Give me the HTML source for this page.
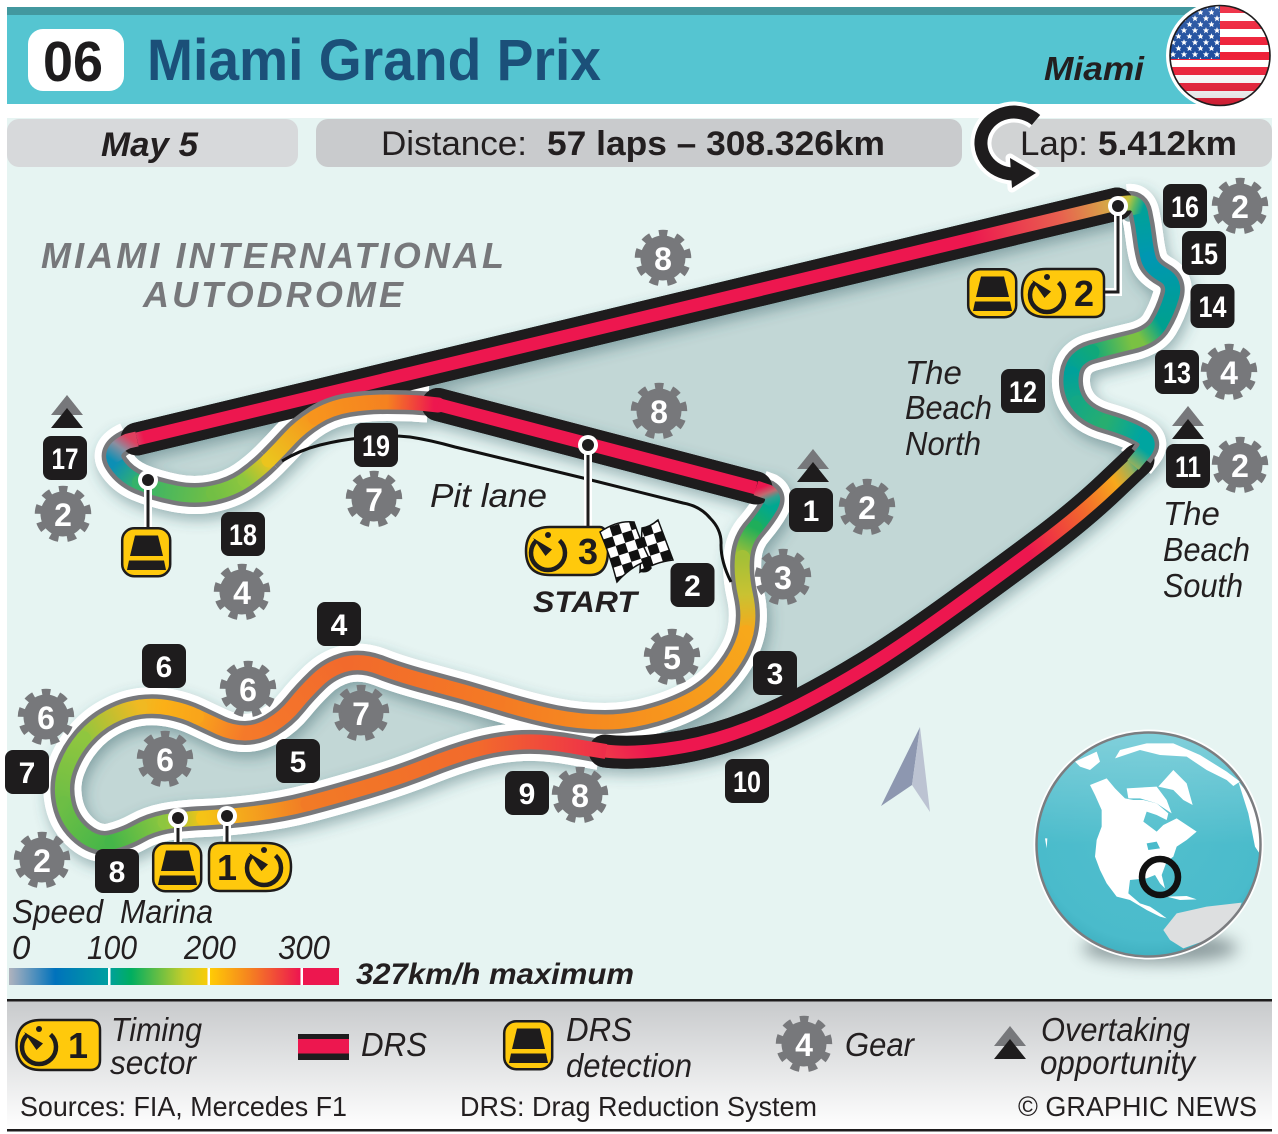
<!DOCTYPE html>
<html><head><meta charset="utf-8"><title>Miami Grand Prix</title>
<style>
html,body{margin:0;padding:0;background:#fff}
svg{display:block;font-family:"Liberation Sans",sans-serif}
.w{stroke:#fff;stroke-width:38;fill:none}
.y{stroke:#77787B;stroke-width:24;fill:none}
.c{stroke-width:15;fill:none;stroke-linecap:round}
.k{stroke:#1E1C1D;stroke-width:33;fill:none;stroke-linecap:round}
.r{stroke-width:13;fill:none}
.b{fill:#1E1C1D;}
.n{fill:#fff;font-weight:bold;font-size:30px;text-anchor:middle}
.g{fill:#fff;font-weight:bold;font-size:32px;text-anchor:middle}
.i{font-style:italic;font-size:33px;fill:#231F20}
.l{font-size:28px;fill:#231F20}
.tg{fill:#FFC90C;stroke:#1E1C1D;stroke-width:2.5}
</style></head>
<body>
<svg width="1278" height="1134" viewBox="0 0 1278 1134" xmlns="http://www.w3.org/2000/svg">
<defs>
<filter id="sh" filterUnits="userSpaceOnUse" x="0" y="100" width="1278" height="900"><feDropShadow dx="3" dy="6" stdDeviation="7" flood-color="#2A5A60" flood-opacity=".42"/></filter>
<filter id="bl" filterUnits="userSpaceOnUse" x="1000" y="900" width="278" height="100"><feGaussianBlur stdDeviation="8"/></filter>
<linearGradient id="leg" x1="0" y1="0" x2="0" y2="1"><stop stop-color="#C8CACC"/><stop offset="1" stop-color="#fff"/></linearGradient>
<linearGradient id="bar" gradientUnits="userSpaceOnUse" x1="9" y1="0" x2="339" y2="0"><stop stop-color="#B0B3BE"/><stop offset=".14" stop-color="#0072BC"/><stop offset=".3" stop-color="#009FA0"/><stop offset=".37" stop-color="#00AE60"/><stop offset=".53" stop-color="#C5CD2A"/><stop offset=".61" stop-color="#FFCB05"/><stop offset=".73" stop-color="#F58220"/><stop offset=".88" stop-color="#ED174F"/></linearGradient>
<linearGradient id="g1" gradientUnits="userSpaceOnUse" x1="762" y1="487" x2="770" y2="507"><stop stop-color="#ED174F"/><stop offset=".35" stop-color="#C06A70"/><stop offset=".65" stop-color="#30A090"/><stop offset="1" stop-color="#00A890"/></linearGradient>
<linearGradient id="g2" gradientUnits="userSpaceOnUse" x1="770" y1="507" x2="755" y2="528"><stop stop-color="#00A890"/><stop offset="1" stop-color="#1FAE5A"/></linearGradient>
<linearGradient id="g3" gradientUnits="userSpaceOnUse" x1="755" y1="528" x2="742" y2="557"><stop stop-color="#1FAE5A"/><stop offset="1" stop-color="#A3C037"/></linearGradient>
<linearGradient id="g4" gradientUnits="userSpaceOnUse" x1="742" y1="557" x2="746" y2="632"><stop stop-color="#A3C037"/><stop offset=".5" stop-color="#C9C232"/><stop offset="1" stop-color="#F7A81B"/></linearGradient>
<linearGradient id="g5" gradientUnits="userSpaceOnUse" x1="746" y1="632" x2="655" y2="714"><stop stop-color="#F7A81B"/><stop offset="1" stop-color="#F7941D"/></linearGradient>
<linearGradient id="g6" gradientUnits="userSpaceOnUse" x1="655" y1="714" x2="497" y2="702"><stop stop-color="#F7941D"/><stop offset="1" stop-color="#F47A24"/></linearGradient>
<linearGradient id="g7" gradientUnits="userSpaceOnUse" x1="497" y1="702" x2="346" y2="664"><stop stop-color="#F47A24"/><stop offset="1" stop-color="#F26A2C"/></linearGradient>
<linearGradient id="g8" gradientUnits="userSpaceOnUse" x1="346" y1="664" x2="245" y2="733"><stop stop-color="#F26A2C"/><stop offset="1" stop-color="#F5792A"/></linearGradient>
<linearGradient id="g9" gradientUnits="userSpaceOnUse" x1="245" y1="733" x2="196" y2="716"><stop stop-color="#F5792A"/><stop offset="1" stop-color="#F9A51A"/></linearGradient>
<linearGradient id="g10" gradientUnits="userSpaceOnUse" x1="196" y1="716" x2="140" y2="707"><stop stop-color="#F9A51A"/><stop offset=".6" stop-color="#FBB017"/><stop offset="1" stop-color="#F0B922"/></linearGradient>
<linearGradient id="g11" gradientUnits="userSpaceOnUse" x1="140" y1="707" x2="83" y2="738"><stop stop-color="#F0B922"/><stop offset="1" stop-color="#8FC63F"/></linearGradient>
<linearGradient id="g12" gradientUnits="userSpaceOnUse" x1="83" y1="738" x2="64" y2="803"><stop stop-color="#8FC63F"/><stop offset="1" stop-color="#6DBE45"/></linearGradient>
<linearGradient id="g13" gradientUnits="userSpaceOnUse" x1="64" y1="803" x2="112" y2="842"><stop stop-color="#6DBE45"/><stop offset="1" stop-color="#45B649"/></linearGradient>
<linearGradient id="g14" gradientUnits="userSpaceOnUse" x1="112" y1="842" x2="165" y2="822"><stop stop-color="#45B649"/><stop offset="1" stop-color="#8DC63F"/></linearGradient>
<linearGradient id="g15" gradientUnits="userSpaceOnUse" x1="165" y1="822" x2="204" y2="818"><stop stop-color="#8DC63F"/><stop offset="1" stop-color="#F5C316"/></linearGradient>
<linearGradient id="g16" gradientUnits="userSpaceOnUse" x1="204" y1="818" x2="308" y2="803"><stop stop-color="#F5C316"/><stop offset="1" stop-color="#F27A26"/></linearGradient>
<linearGradient id="g17" gradientUnits="userSpaceOnUse" x1="308" y1="803" x2="477" y2="749"><stop stop-color="#F27A26"/><stop offset="1" stop-color="#F26A2C"/></linearGradient>
<linearGradient id="g18" gradientUnits="userSpaceOnUse" x1="477" y1="749" x2="606" y2="751"><stop stop-color="#F26A2C"/><stop offset="1" stop-color="#EE2D4A"/></linearGradient>
<linearGradient id="b1" gradientUnits="userSpaceOnUse" x1="1112" y1="204" x2="1141" y2="214"><stop stop-color="#D8A048"/><stop offset=".45" stop-color="#C8C43A"/><stop offset=".7" stop-color="#60B860"/><stop offset="1" stop-color="#00A19A"/></linearGradient>
<linearGradient id="b2" gradientUnits="userSpaceOnUse" x1="1141" y1="214" x2="1148" y2="259"><stop stop-color="#00A19A"/><stop offset="1" stop-color="#0097B2"/></linearGradient>
<linearGradient id="b3" gradientUnits="userSpaceOnUse" x1="1148" y1="259" x2="1160" y2="324"><stop stop-color="#0097B2"/><stop offset="1" stop-color="#00A090"/></linearGradient>
<linearGradient id="b4" gradientUnits="userSpaceOnUse" x1="1160" y1="324" x2="1131" y2="342"><stop stop-color="#00A090"/><stop offset=".7" stop-color="#7AC143"/><stop offset="1" stop-color="#7AC143"/></linearGradient>
<linearGradient id="b5" gradientUnits="userSpaceOnUse" x1="1131" y1="342" x2="1092" y2="352"><stop stop-color="#7AC143"/><stop offset="1" stop-color="#10A87A"/></linearGradient>
<linearGradient id="b6" gradientUnits="userSpaceOnUse" x1="1092" y1="352" x2="1071" y2="373"><stop stop-color="#10A87A"/><stop offset="1" stop-color="#00A19A"/></linearGradient>
<linearGradient id="b7" gradientUnits="userSpaceOnUse" x1="1071" y1="373" x2="1077" y2="403"><stop stop-color="#00A19A"/><stop offset="1" stop-color="#14A884"/></linearGradient>
<linearGradient id="b8" gradientUnits="userSpaceOnUse" x1="1077" y1="403" x2="1107" y2="422"><stop stop-color="#14A884"/><stop offset="1" stop-color="#27AE70"/></linearGradient>
<linearGradient id="b9" gradientUnits="userSpaceOnUse" x1="1107" y1="422" x2="1140" y2="435"><stop stop-color="#27AE70"/><stop offset="1" stop-color="#00A5A0"/></linearGradient>
<linearGradient id="b10" gradientUnits="userSpaceOnUse" x1="1132" y1="466" x2="1144" y2="450"><stop stop-color="#9DB05A"/><stop offset="1" stop-color="#00A5A0"/></linearGradient>
<linearGradient id="c1" gradientUnits="userSpaceOnUse" x1="132" y1="440" x2="116" y2="463"><stop stop-color="#E0405F"/><stop offset=".45" stop-color="#8A8FA0"/><stop offset="1" stop-color="#0C8FB5"/></linearGradient>
<linearGradient id="c2" gradientUnits="userSpaceOnUse" x1="116" y1="463" x2="139" y2="482"><stop stop-color="#0C8FB5"/><stop offset="1" stop-color="#35B36A"/></linearGradient>
<linearGradient id="c3" gradientUnits="userSpaceOnUse" x1="139" y1="482" x2="213" y2="493"><stop stop-color="#35B36A"/><stop offset="1" stop-color="#72BF44"/></linearGradient>
<linearGradient id="c4" gradientUnits="userSpaceOnUse" x1="213" y1="493" x2="245" y2="480"><stop stop-color="#72BF44"/><stop offset="1" stop-color="#8DC63F"/></linearGradient>
<linearGradient id="c5" gradientUnits="userSpaceOnUse" x1="245" y1="480" x2="269" y2="460"><stop stop-color="#8DC63F"/><stop offset="1" stop-color="#EBC41E"/></linearGradient>
<linearGradient id="d1" gradientUnits="userSpaceOnUse" x1="269" y1="460" x2="315" y2="417"><stop stop-color="#EBC41E"/><stop offset="1" stop-color="#F7941D"/></linearGradient>
<linearGradient id="d2" gradientUnits="userSpaceOnUse" x1="315" y1="417" x2="387" y2="402"><stop stop-color="#F7941D"/><stop offset="1" stop-color="#F58220"/></linearGradient>
<linearGradient id="d3" gradientUnits="userSpaceOnUse" x1="387" y1="402" x2="434" y2="404"><stop stop-color="#F58220"/><stop offset="1" stop-color="#ED174F"/></linearGradient>
<linearGradient id="top" gradientUnits="userSpaceOnUse" x1="124" y1="443" x2="1124" y2="202"><stop stop-color="#C87A80"/><stop offset=".02" stop-color="#ED174F"/><stop offset=".845" stop-color="#ED174F"/><stop offset=".936" stop-color="#E8604F"/><stop offset=".98" stop-color="#D8A048"/><stop offset="1" stop-color="#C8C43A"/></linearGradient>
<linearGradient id="low" gradientUnits="userSpaceOnUse" x1="600" y1="750" x2="1140" y2="458"><stop stop-color="#F0394A"/><stop offset=".07" stop-color="#ED174F"/><stop offset=".767" stop-color="#ED174F"/><stop offset=".881" stop-color="#F26A2C"/><stop offset=".9456" stop-color="#F7A81B"/><stop offset=".978" stop-color="#9DB05A"/><stop offset="1" stop-color="#00A5A0"/></linearGradient>
<radialGradient id="glob" cx=".5" cy=".42" r=".6"><stop offset="0" stop-color="#52BFCD"/><stop offset=".85" stop-color="#4ABBCB"/><stop offset="1" stop-color="#3EAEBE"/></radialGradient>
<linearGradient id="glos" x1="0" y1="0" x2="0" y2="1"><stop stop-color="#fff" stop-opacity=".3"/><stop offset=".5" stop-color="#fff" stop-opacity="0"/></linearGradient>
<linearGradient id="fgl" x1="0" y1="0" x2="0" y2="1"><stop stop-color="#fff" stop-opacity=".12"/><stop offset=".5" stop-color="#fff" stop-opacity="0"/><stop offset="1" stop-color="#000" stop-opacity=".18"/></linearGradient>
<pattern id="sta" width="11" height="12" patternUnits="userSpaceOnUse" x="1170" y="3"><polygon fill="#fff" points="3,.2 3.9,2.4 6.2,2.4 4.4,3.9 5,6.2 3,4.9 1,6.2 1.6,3.9 -.2,2.4 2.1,2.4"/><polygon fill="#fff" points="8.5,6.2 9.4,8.4 11.7,8.4 9.9,9.9 10.5,12 8.5,10.9 6.5,12 7.1,9.9 5.3,8.4 7.6,8.4"/></pattern>
<pattern id="chk" width="20" height="20" patternUnits="userSpaceOnUse" patternTransform="rotate(-18 600 530)"><rect width="20" height="20" fill="#fff"/><rect width="10" height="10" fill="#111"/><rect x="10" y="10" width="10" height="10" fill="#111"/></pattern>
<clipPath id="fc"><circle cx="1220" cy="55.5" r="50"/></clipPath>
<clipPath id="gc"><circle cx="1148.5" cy="844.5" r="112"/></clipPath>
<g id="gear"><circle r="22.5" fill="#77787B"/><circle r="24" fill="none" stroke="#77787B" stroke-width="8.5" stroke-dasharray="8.38 8.38" stroke-dashoffset="4.19" transform="rotate(-90)"/></g>
<g id="drs"><rect x="1.2" y="1.2" width="48" height="48" rx="12" class="tg"/><polygon class="b" points="14,8.5 37,8.5 42,29 9,29"/><polygon class="b" points="8,33.5 43,33.5 45,43 6,43"/></g>
<g id="clk"><path d="M-11.5,-12.5 A17,17 0 1 0 11.5,-12.5" fill="none" stroke="#1E1C1D" stroke-width="4.5"/><circle cx="0" cy="-18" r="3" class="b"/><polygon class="b" points="-15,-15 4,-3.5 -2.5,3"/></g>
<g id="ov"><polygon fill="#77787B" points="0,0 16,20 -16,20"/><polygon class="b" points="0,13 16,33 -16,33"/></g>
<path id="tA" d="M760,489 L768,492 Q776,497 770,507 Q765,516 755,528 Q744,540 742.5,557.5 Q741,575 745.5,595 Q750,615 746,632.5 Q742,650 728.5,668 Q715,686 697.5,696.5 Q680,707 655,714.5 Q630,722 605,722 Q580,722 555,717 Q530,712 497.5,702 Q465,692 432.5,683.5 Q400,675 381,667.5 Q362,660 346,664 Q330,668 317.5,680 Q305,692 295,704.5 Q285,717 271.5,725 Q258,733 245,733 Q232,733 220,727.5 Q208,722 196.5,716.5 Q185,711 170,708 Q155,705 140,707 Q125,709 110,717 Q95,725 83.5,738.5 Q72,752 66,768.5 Q60,785 64,803.5 Q68,822 82.5,834 Q97,846 112,842 Q127,838 138.5,831.5 Q150,825 165,822 Q180,819 203.5,818 Q227,817 255,813.5 Q283,810 308,803.5 Q333,797 366.5,787 Q400,777 427.5,766 Q455,755 477.5,749 Q500,743 522.5,742 Q545,741 572.5,746 L600,751"/>
<path id="tB" d="M1128,203 Q1138,202 1140.5,213.5 Q1143,225 1144.5,237.5 Q1146,250 1148.5,259 Q1151,268 1163.5,275 Q1176,282 1171.5,297 Q1167,312 1159.5,324.5 Q1152,337 1131,342 Q1110,347 1092,352 Q1074,357 1071.5,373.5 Q1069,390 1077.5,403 Q1086,416 1107,422 Q1128,428 1140,435 Q1152,442 1144,452 L1136,462"/>
<path id="tC" d="M128,441 Q108,450 116,463 Q124,476 139.5,482.5 Q155,489 175,493 Q195,497 213.5,493 Q232,489 245,480 Q258,471 269,460"/>
<path id="tD" d="M269,460 Q280,449 290,438 Q300,427 315,417.5 Q330,408 348.5,405 Q367,402 387,402 Q407,402 420,403 L428,403.5"/>
<path id="tS" d="M137,439 L1117,204"/>
<path id="tE" d="M605,751 Q630,754 665,749.5 Q700,745 733.5,733.5 Q767,722 800,705 Q833,688 866.5,667.5 Q900,647 950,611 Q1000,575 1040,545 Q1080,515 1109,487.5 L1138,460"/>
<path id="tF" d="M438,404.5 L756,488"/>
</defs>

<!-- map background -->
<rect x="7" y="118" width="1265" height="882" fill="#E6F4F2"/>

<!-- infield fills -->
<path fill="#C2D7D6" d="M1124,202 L300,400 L434,404 L760,489 L768,492 Q776,497 770,507 Q765,516 755,528 Q744,540 742.5,557.5 Q741,575 745.5,595 Q750,615 746,632.5 Q742,650 728.5,668 Q715,686 697.5,696.5 Q680,707 655,714.5 Q630,722 605,722 L600,750 Q630,754 665,749.5 Q700,745 733.5,733.5 Q767,722 800,705 Q833,688 866.5,667.5 Q900,647 950,611 Q1000,575 1040,545 Q1080,515 1109,487.5 L1138,460 L1144,440 L1107,422 L1077,403 L1071,373 L1092,352 L1131,342 L1160,324 L1171,297 L1163,275 L1148,259 L1144,237 L1140,213 Z"/>
<path fill="#C2D7D6" d="M605,722 Q580,722 555,717 Q530,712 497.5,702 Q465,692 432.5,683.5 Q400,675 381,667.5 Q362,660 346,664 Q330,668 317.5,680 Q305,692 295,704.5 Q285,717 271.5,725 Q258,733 245,733 Q232,733 220,727.5 Q208,722 196.5,716.5 Q185,711 170,708 Q155,705 140,707 Q125,709 110,717 Q95,725 83.5,738.5 Q72,752 66,768.5 Q60,785 64,803.5 Q68,822 82.5,834 Q97,846 112,842 Q127,838 138.5,831.5 Q150,825 165,822 Q180,819 203.5,818 Q227,817 255,813.5 Q283,810 308,803.5 Q333,797 366.5,787 Q400,777 427.5,766 Q455,755 477.5,749 Q500,743 522.5,742 Q545,741 572.5,746 L600,751 Z"/>
<polygon fill="#C2D7D6" points="128,441 330,393 348,405 315,417 290,438 269,460 245,480 213,493 175,493 139,482 116,463"/>

<!-- track shadow + white casing -->
<g filter="url(#sh)">
<use href="#tA" class="w"/><use href="#tB" class="w"/><use href="#tC" class="w"/><use href="#tD" class="w"/>
<use href="#tS" class="k"/><use href="#tE" class="k"/><use href="#tF" class="k"/>
</g>
<use href="#tA" class="w"/><use href="#tB" class="w"/><use href="#tC" class="w"/><use href="#tD" class="w"/>
<use href="#tA" class="y"/><use href="#tB" class="y"/><use href="#tC" class="y"/>

<g>
<path class="c" stroke="url(#g2)" d="M770,507 Q765,516 755,528"/>
<path class="c" stroke="url(#g3)" d="M755,528 Q744,540 742.5,557.5"/>
<path class="c" stroke="url(#g4)" d="M742.5,557.5 Q741,575 745.5,595 Q750,615 746,632.5"/>
<path class="c" stroke="url(#g5)" d="M746,632.5 Q742,650 728.5,668 Q715,686 697.5,696.5 Q680,707 655,714.5"/>
<path class="c" stroke="url(#g6)" d="M655,714.5 Q630,722 605,722 Q580,722 555,717 Q530,712 497.5,702"/>
<path class="c" stroke="url(#g7)" d="M497.5,702 Q465,692 432.5,683.5 Q400,675 381,667.5 Q362,660 346,664"/>
<path class="c" stroke="url(#g8)" d="M346,664 Q330,668 317.5,680 Q305,692 295,704.5 Q285,717 271.5,725 Q258,733 245,733"/>
<path class="c" stroke="url(#g9)" d="M245,733 Q232,733 220,727.5 Q208,722 196.5,716.5"/>
<path class="c" stroke="url(#g10)" d="M196.5,716.5 Q185,711 170,708 Q155,705 140,707"/>
<path class="c" stroke="url(#g11)" d="M140,707 Q125,709 110,717 Q95,725 83.5,738.5"/>
<path class="c" stroke="url(#g12)" d="M83.5,738.5 Q72,752 66,768.5 Q60,785 64,803.5"/>
<path class="c" stroke="url(#g13)" d="M64,803.5 Q68,822 82.5,834 Q97,846 112,842"/>
<path class="c" stroke="url(#g14)" d="M112,842 Q127,838 138.5,831.5 Q150,825 165,822"/>
<path class="c" stroke="url(#g15)" d="M165,822 Q180,819 203.5,818"/>
<path class="c" stroke="url(#g16)" d="M203.5,818 Q227,817 255,813.5 Q283,810 308,803.5"/>
<path class="c" stroke="url(#g17)" d="M308,803.5 Q333,797 366.5,787 Q400,777 427.5,766 Q455,755 477.5,749"/>
<path class="c" stroke="url(#g18)" d="M477.5,749 Q500,743 522.5,742 Q545,741 572.5,746 L600,751"/>
<path class="c" stroke="url(#b2)" d="M1140.5,213.5 Q1143,225 1144.5,237.5 Q1146,250 1148.5,259"/>
<path class="c" stroke="url(#b3)" d="M1148.5,259 Q1151,268 1163.5,275 Q1176,282 1171.5,297 Q1167,312 1159.5,324.5"/>
<path class="c" stroke="url(#b4)" d="M1159.5,324.5 Q1152,337 1131,342"/>
<path class="c" stroke="url(#b5)" d="M1131,342 Q1110,347 1092,352"/>
<path class="c" stroke="url(#b6)" d="M1092,352 Q1074,357 1071.5,373.5"/>
<path class="c" stroke="url(#b7)" d="M1071.5,373.5 Q1069,390 1077.5,403"/>
<path class="c" stroke="url(#b8)" d="M1077.5,403 Q1086,416 1107,422"/>
<path class="c" stroke="url(#b9)" d="M1107,422 Q1128,428 1140,435"/>
<path class="c" stroke="url(#c2)" d="M116,463 Q124,476 139.5,482.5"/>
<path class="c" stroke="url(#c3)" d="M139.5,482.5 Q155,489 175,493 Q195,497 213.5,493"/>
<path class="c" stroke="url(#c4)" d="M213.5,493 Q232,489 245,480"/>
<path class="c" stroke="url(#c5)" d="M245,480 Q258,471 269,460"/>
</g>

<!-- top DRS straight -->
<use href="#tS" class="k"/>
<use href="#tS" class="r" stroke="url(#top)"/>
<path class="c" stroke="url(#b1)" d="M1117,204 L1128,203 Q1138,202 1140.5,213.5" style="stroke-linecap:butt"/>
<path class="c" stroke="url(#c1)" d="M137,439 L128,441 Q108,450 116,463" style="stroke-linecap:butt"/>

<!-- turn 19 passes over the straight -->
<use href="#tD" class="y"/>
<path class="c" stroke="url(#d1)" d="M269,460 Q280,449 290,438 Q300,427 315,417.5"/>
<path class="c" stroke="url(#d2)" d="M315,417.5 Q330,408 348.5,405 Q367,402 387,402"/>

<!-- second and third DRS zones -->
<use href="#tF" class="k"/>
<path class="c" stroke="url(#d3)" d="M387,402 Q407,402 420,403 L438,405"/>
<use href="#tF" class="r" stroke="#ED174F"/>
<path class="c" stroke="url(#g1)" d="M756,488 L768,492 Q776,497 770,507" style="stroke-linecap:butt"/>
<use href="#tE" class="k"/>
<use href="#tE" class="r" stroke="url(#low)"/>
<path class="c" stroke="url(#g18)" d="M572.5,746 L606,751.5" style="stroke-linecap:butt"/>
<path class="y" d="M1141,456 Q1152,442 1140,435"/>
<path class="c" stroke="url(#b10)" d="M1133,465 L1144,452 Q1152,442 1140,435" style="stroke-linecap:butt"/>

<!-- pit lane -->
<path fill="none" stroke="#111" stroke-width="3" d="M282,461 Q300,450 320,445 Q340,440 360,438 Q385,434 410,437 Q430,440 455,447 L583,478 L683,503 Q700,506 710,518 Q722,530 721,545 Q721,562 731,582"/>

<!-- header -->
<rect x="7" y="7" width="1220" height="97" fill="#55C5D1"/>
<rect x="7" y="7" width="1220" height="8" fill="#42989F"/>
<rect x="28" y="29" width="96" height="62" rx="15" fill="#fff"/>
<text x="43" y="81" font-size="57" font-weight="bold" fill="#1E1C1D" textLength="60" lengthAdjust="spacingAndGlyphs">06</text>
<text x="147" y="80" font-size="58" font-weight="bold" fill="#1B5079" textLength="454" lengthAdjust="spacingAndGlyphs">Miami Grand Prix</text>
<text x="1044" y="80" font-size="33" font-weight="bold" font-style="italic" fill="#231F20" textLength="100" lengthAdjust="spacingAndGlyphs">Miami</text>

<!-- flag -->
<circle cx="1220" cy="55.5" r="54" fill="#fff"/>
<g clip-path="url(#fc)">
<rect x="1165" y="0" width="110" height="110" fill="#fff"/>
<g fill="#ED2038">
<rect x="1165" y="5" width="110" height="8"/><rect x="1165" y="21" width="110" height="8"/><rect x="1165" y="37" width="110" height="8"/><rect x="1165" y="52" width="110" height="8"/><rect x="1165" y="67" width="110" height="8"/><rect x="1165" y="83" width="110" height="8"/><rect x="1165" y="98" width="110" height="8"/>
</g>
<rect x="1165" y="0" width="55" height="59" fill="#1F4E9E"/>
<rect x="1165" y="0" width="55" height="59" fill="url(#sta)"/>
<rect x="1165" y="0" width="110" height="110" fill="url(#fgl)"/>
</g>
<circle cx="1220" cy="55.5" r="50" fill="none" stroke="#1E1C1D" stroke-width="1.6"/>

<!-- info pills -->
<rect x="7" y="119" width="291" height="48" rx="12" fill="#D7D9DB"/>
<rect x="316" y="119" width="646" height="48" rx="12" fill="#C9CBCD"/>
<rect x="980" y="119" width="292" height="48" rx="12" fill="#D1D3D4"/>
<text x="101" y="156" font-size="34" font-weight="bold" font-style="italic" fill="#231F20" textLength="97" lengthAdjust="spacingAndGlyphs">May 5</text>
<text x="381" y="155" font-size="34" fill="#231F20" textLength="146" lengthAdjust="spacingAndGlyphs">Distance:</text>
<text x="547" y="155" font-size="34" font-weight="bold" fill="#231F20" textLength="338" lengthAdjust="spacingAndGlyphs">57 laps – 308.326km</text>
<text x="1020" y="155" font-size="34" fill="#231F20" textLength="68" lengthAdjust="spacingAndGlyphs">Lap:</text>
<text x="1098" y="155" font-size="34" font-weight="bold" fill="#231F20" textLength="139" lengthAdjust="spacingAndGlyphs">5.412km</text>
<!-- lap arrow -->
<path d="M1036,120 A33,31 0 1 0 1012,174" fill="none" stroke="#fff" stroke-width="21"/>
<polygon points="1010,158 1035,173 1012,188" fill="#fff" stroke="#fff" stroke-width="9" stroke-linejoin="round"/>
<path d="M1036,120 A33,31 0 1 0 1012,174" fill="none" stroke="#1E1C1D" stroke-width="13"/>
<polygon points="1010,158 1036,173 1012,188" fill="#1E1C1D"/>

<!-- venue title -->
<text x="41" y="268" font-size="36" font-weight="bold" font-style="italic" fill="#77787B" textLength="463" lengthAdjust="spacing">MIAMI INTERNATIONAL</text>
<text x="143" y="307" font-size="36" font-weight="bold" font-style="italic" fill="#77787B" textLength="260" lengthAdjust="spacing">AUTODROME</text>

<!-- italic place labels -->
<text class="i" x="905" y="384">The</text><text class="i" x="905" y="419" textLength="87" lengthAdjust="spacingAndGlyphs">Beach</text><text class="i" x="905" y="455" textLength="76" lengthAdjust="spacingAndGlyphs">North</text>
<text class="i" x="1163" y="525">The</text><text class="i" x="1163" y="561" textLength="87" lengthAdjust="spacingAndGlyphs">Beach</text><text class="i" x="1163" y="597" textLength="80" lengthAdjust="spacingAndGlyphs">South</text>
<text class="i" x="430" y="507" font-size="34" textLength="117" lengthAdjust="spacingAndGlyphs">Pit lane</text>
<text x="533" y="612" font-size="30" font-weight="bold" font-style="italic" fill="#231F20" textLength="104" lengthAdjust="spacingAndGlyphs">START</text>

<!-- turn markers -->
<g class="b">
<rect x="789" y="488" width="44" height="44" rx="8"/><rect x="670.5" y="563" width="44" height="44" rx="8"/><rect x="753" y="651" width="44" height="44" rx="8"/><rect x="317" y="602" width="44" height="44" rx="8"/><rect x="276" y="739" width="44" height="44" rx="8"/><rect x="142" y="644" width="44" height="44" rx="8"/><rect x="5" y="750" width="44" height="44" rx="8"/><rect x="95" y="849" width="44" height="44" rx="8"/><rect x="505" y="771" width="44" height="44" rx="8"/><rect x="725" y="759" width="44" height="44" rx="8"/><rect x="1166" y="444" width="44" height="44" rx="8"/><rect x="1001" y="369" width="44" height="44" rx="8"/><rect x="1155" y="350" width="44" height="44" rx="8"/><rect x="1190.5" y="284" width="44" height="44" rx="8"/><rect x="1182" y="231" width="44" height="44" rx="8"/><rect x="1163" y="184" width="44" height="44" rx="8"/><rect x="43" y="436" width="44" height="44" rx="8"/><rect x="221" y="512" width="44" height="44" rx="8"/><rect x="354" y="423" width="44" height="44" rx="8"/>
</g>
<g>
<text class="n" x="811" y="521">1</text><text class="n" x="692.5" y="596">2</text><text class="n" x="775" y="684">3</text><text class="n" x="339" y="635">4</text><text class="n" x="298" y="772">5</text><text class="n" x="164" y="677">6</text><text class="n" x="27" y="783">7</text><text class="n" x="117" y="882">8</text><text class="n" x="527" y="804">9</text>
<text class="n" x="747" y="792" textLength="28" lengthAdjust="spacingAndGlyphs">10</text><text class="n" x="1188" y="477" textLength="26" lengthAdjust="spacingAndGlyphs">11</text><text class="n" x="1023" y="402" textLength="28" lengthAdjust="spacingAndGlyphs">12</text><text class="n" x="1177" y="383" textLength="28" lengthAdjust="spacingAndGlyphs">13</text><text class="n" x="1212.5" y="317" textLength="28" lengthAdjust="spacingAndGlyphs">14</text><text class="n" x="1204" y="264" textLength="28" lengthAdjust="spacingAndGlyphs">15</text><text class="n" x="1185" y="217" textLength="28" lengthAdjust="spacingAndGlyphs">16</text><text class="n" x="65" y="469" textLength="27" lengthAdjust="spacingAndGlyphs">17</text><text class="n" x="243" y="545" textLength="28" lengthAdjust="spacingAndGlyphs">18</text><text class="n" x="376" y="456" textLength="28" lengthAdjust="spacingAndGlyphs">19</text>
</g>

<!-- gears -->
<use href="#gear" x="1240" y="206"/><text class="g" x="1240" y="218">2</text>
<use href="#gear" x="663" y="258"/><text class="g" x="663" y="270">8</text>
<use href="#gear" x="659" y="411"/><text class="g" x="659" y="423">8</text>
<use href="#gear" x="867" y="507"/><text class="g" x="867" y="519">2</text>
<use href="#gear" x="783" y="577"/><text class="g" x="783" y="589">3</text>
<use href="#gear" x="672" y="657"/><text class="g" x="672" y="669">5</text>
<use href="#gear" x="1240" y="465"/><text class="g" x="1240" y="477">2</text>
<use href="#gear" x="1229" y="372"/><text class="g" x="1229" y="384">4</text>
<use href="#gear" x="63" y="514"/><text class="g" x="63" y="526">2</text>
<use href="#gear" x="242" y="592"/><text class="g" x="242" y="604">4</text>
<use href="#gear" x="374" y="499"/><text class="g" x="374" y="511">7</text>
<use href="#gear" x="248" y="689"/><text class="g" x="248" y="701">6</text>
<use href="#gear" x="165" y="759"/><text class="g" x="165" y="771">6</text>
<use href="#gear" x="46" y="717"/><text class="g" x="46" y="729">6</text>
<use href="#gear" x="361" y="713"/><text class="g" x="361" y="725">7</text>
<use href="#gear" x="42" y="860"/><text class="g" x="42" y="872">2</text>
<use href="#gear" x="580" y="795"/><text class="g" x="580" y="807">8</text>

<!-- overtaking arrows -->
<use href="#ov" x="813" y="449"/><use href="#ov" x="1188" y="406"/><use href="#ov" x="67" y="395"/>

<!-- connectors -->
<g fill="none" stroke-linejoin="miter">
<path d="M588,445 V526 M148,480 V527 M178,818 V842 M227,816 V842 M1118,206 V292 H1105" stroke="#fff" stroke-width="8"/>
<path d="M588,445 V526 M148,480 V527 M178,818 V842 M227,816 V842 M1118,206 V292 H1105" stroke="#1E1C1D" stroke-width="3"/>
</g>
<g fill="#fff"><circle cx="588" cy="445" r="10"/><circle cx="148" cy="480" r="10"/><circle cx="178" cy="818" r="10"/><circle cx="227" cy="816" r="10"/><circle cx="1118" cy="206" r="10"/></g>
<g class="b"><circle cx="588" cy="445" r="6"/><circle cx="148" cy="480" r="6"/><circle cx="178" cy="818" r="6"/><circle cx="227" cy="816" r="6"/><circle cx="1118" cy="206" r="6"/></g>

<!-- tags on map -->
<use href="#drs" x="121" y="527"/>
<use href="#drs" x="152" y="842"/>
<use href="#drs" x="967" y="268"/>
<path class="tg" d="M220,843 H266 Q291,843 291,867 Q291,891 266,891 H220 Q209,891 209,880 V854 Q209,843 220,843 Z"/>
<text x="227" y="880" font-size="36" font-weight="bold" fill="#1E1C1D" text-anchor="middle">1</text>
<use href="#clk" x="264" y="868"/>
<path class="tg" d="M1046,269 H1094 Q1104,269 1104,279 V307 Q1104,317 1094,317 H1046 Q1022,317 1022,293 Q1022,269 1046,269 Z"/>
<use href="#clk" x="1047" y="295"/>
<text x="1084" y="306" font-size="36" font-weight="bold" fill="#1E1C1D" text-anchor="middle">2</text>
<path class="tg" d="M550,527 H600 Q608,527 608,550 Q608,575 590,575 H550 Q526,575 526,551 Q526,527 550,527 Z"/>
<use href="#clk" x="548" y="553"/>
<text x="588" y="564" font-size="36" font-weight="bold" fill="#1E1C1D" text-anchor="middle">3</text>

<!-- chequered flags -->
<path d="M642,528 Q650,527 658,520 L673,560 Q655,562 640,572 Z" fill="url(#chk)" stroke="#111" stroke-width="1.5"/>
<path d="M600,532 Q617,520 634,522 Q640,540 650,560 Q632,565 617,582 Q610,555 600,532 Z" fill="url(#chk)" stroke="#111" stroke-width="1.5"/>
<path d="M638,574 Q648,562 652,568 Q648,574 640,572" fill="#111"/>

<!-- north arrow -->
<polygon points="920,727 912,785 881,806" fill="#8D97B0"/>
<polygon points="920,727 930,812 912,785" fill="#BCC3D2"/>

<!-- globe -->
<ellipse cx="1160" cy="948" rx="78" ry="15" fill="#44555A" opacity=".55" filter="url(#bl)"/>
<circle cx="1148.5" cy="844.5" r="115" fill="#fff"/>
<circle cx="1148.5" cy="844.5" r="112" fill="url(#glob)"/>
<g clip-path="url(#gc)"><g transform="translate(1000,700) scale(.33333)" fill="#fff">
<polygon points="270,255 320,235 345,265 375,295 400,300 430,300 470,310 505,340 500,360 470,345 440,335 430,365 470,395 490,375 530,355 590,395 560,420 530,440 520,470 500,485 485,525 495,565 480,550 465,525 440,535 390,540 385,580 420,610 450,620 480,640 500,655 480,650 440,630 390,600 350,590 320,550 300,510 285,470 290,420 305,380 305,330 285,285"/>
<polygon points="475,260 520,210 560,250 578,315 550,300 520,270"/>
<polygon points="225,185 290,155 300,185 270,210 240,200"/>
<polygon points="380,265 470,260 500,300 515,340 470,310 420,295 385,295"/>
<polygon points="345,175 360,150 440,130 520,130 600,165 680,215 720,245 700,258 680,240 620,210 560,170 480,165 420,150"/>
<polygon points="715,245 760,300 790,400 785,470 765,440 745,340"/>
<polygon points="500,590 560,588 590,598 540,600"/>
<polygon points="135,415 142,415 140,445"/>
<polygon fill="#DDDFE0" points="490,690 530,640 620,620 725,608 700,670 620,720 550,745 510,720"/>
<polygon fill="#4ABBCB" points="440,430 470,425 480,445 445,450"/>
</g>
<rect x="1036" y="732" width="225" height="226" fill="url(#glos)"/></g>
<circle cx="1148.5" cy="844.5" r="112" fill="none" stroke="#7B7D80" stroke-width="2.5"/>
<circle cx="1160" cy="877" r="18" fill="none" stroke="#111" stroke-width="6.5"/>

<!-- speed scale -->
<text class="i" x="12" y="923" font-size="31" textLength="91" lengthAdjust="spacingAndGlyphs">Speed</text>
<text class="i" x="120" y="923" font-size="31" textLength="93" lengthAdjust="spacingAndGlyphs">Marina</text>
<text class="i" x="12" y="959" font-size="31">0</text>
<text class="i" x="87" y="959" font-size="31" textLength="50" lengthAdjust="spacingAndGlyphs">100</text>
<text class="i" x="184" y="959" font-size="31" textLength="52" lengthAdjust="spacingAndGlyphs">200</text>
<text class="i" x="278" y="959" font-size="31" textLength="52" lengthAdjust="spacingAndGlyphs">300</text>
<rect x="9" y="968" width="330" height="17" fill="url(#bar)"/>
<rect x="108" y="968" width="2.5" height="17" fill="#fff"/><rect x="207.5" y="968" width="2.5" height="17" fill="#fff"/><rect x="300.5" y="968" width="2.5" height="17" fill="#fff"/>
<text x="356" y="984" font-size="30" font-weight="bold" font-style="italic" fill="#231F20" textLength="278" lengthAdjust="spacingAndGlyphs">327km/h maximum</text>

<!-- legend -->
<rect x="7" y="1000" width="1265" height="130" fill="url(#leg)"/>
<rect x="7" y="999" width="1265" height="2.5" fill="#1E1C1D"/>
<rect x="7" y="1129" width="1265" height="2.5" fill="#1E1C1D"/>
<path class="tg" d="M41,1020 H90 Q100,1020 100,1030 V1060 Q100,1070 90,1070 H41 Q16.5,1070 16.5,1045 Q16.5,1020 41,1020 Z"/>
<use href="#clk" x="39" y="1047"/>
<text x="78" y="1058" font-size="36" font-weight="bold" fill="#1E1C1D" text-anchor="middle">1</text>
<text class="i" x="111" y="1041" textLength="91" lengthAdjust="spacingAndGlyphs">Timing</text>
<text class="i" x="110" y="1074" textLength="86" lengthAdjust="spacingAndGlyphs">sector</text>
<rect x="298" y="1034" width="51" height="26" fill="#1E1C1D"/><rect x="298" y="1039" width="51" height="14.5" fill="#ED174F"/>
<text class="i" x="361" y="1056" textLength="66" lengthAdjust="spacingAndGlyphs">DRS</text>
<use href="#drs" x="503" y="1020"/>
<text class="i" x="566" y="1041" textLength="66" lengthAdjust="spacingAndGlyphs">DRS</text>
<text class="i" x="566" y="1077" textLength="126" lengthAdjust="spacingAndGlyphs">detection</text>
<use href="#gear" x="804" y="1044"/><text class="g" x="804" y="1056">4</text>
<text class="i" x="845" y="1056" textLength="69" lengthAdjust="spacingAndGlyphs">Gear</text>
<use href="#ov" x="1010" y="1026"/>
<text class="i" x="1041" y="1041" textLength="149" lengthAdjust="spacingAndGlyphs">Overtaking</text>
<text class="i" x="1040" y="1074" textLength="155" lengthAdjust="spacingAndGlyphs">opportunity</text>
<text class="l" x="20" y="1116" textLength="327" lengthAdjust="spacingAndGlyphs">Sources: FIA, Mercedes F1</text>
<text class="l" x="460" y="1116" textLength="357" lengthAdjust="spacingAndGlyphs">DRS: Drag Reduction System</text>
<text class="l" x="1018" y="1116" textLength="239" lengthAdjust="spacingAndGlyphs">© GRAPHIC NEWS</text>
</svg>
</body></html>
